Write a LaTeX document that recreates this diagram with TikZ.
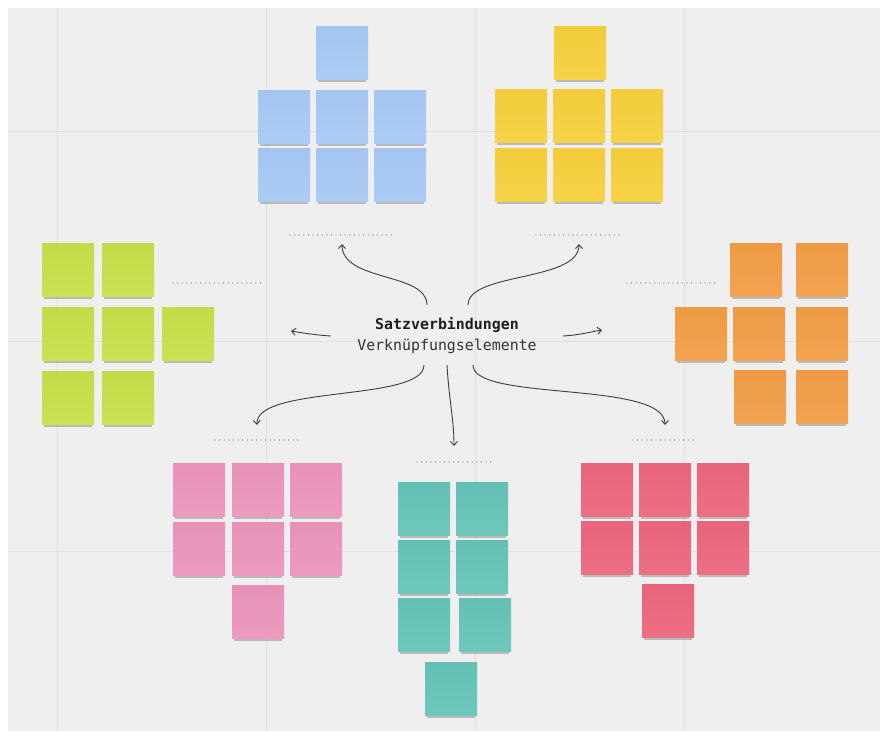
\documentclass[tikz,border=0pt]{standalone}
\usepackage{fontspec}
\setmonofont{DejaVu Sans Mono}
\usetikzlibrary{arrows.meta,shadows}
\definecolor{panel}{RGB}{239,239,239}
\definecolor{gridc}{RGB}{224,224,224}
\definecolor{cblue}{RGB}{166,201,244}
\definecolor{cyellow}{RGB}{247,208,60}
\definecolor{cgreen}{RGB}{199,224,72}
\definecolor{corange}{RGB}{243,157,70}
\definecolor{cpink}{RGB}{236,148,187}
\definecolor{cteal}{RGB}{102,196,184}
\definecolor{cred}{RGB}{236,102,124}
\definecolor{ink}{RGB}{60,60,60}
\begin{document}
\begin{tikzpicture}[x=1pt,y=-1pt,
  note/.style={draw=none,minimum width=52pt,minimum height=53pt,inner sep=0pt,
    general shadow={shadow yshift=-4.5pt,shadow scale=0.94,fill=black,opacity=0.22}},
  nblue/.style={note,top color=cblue!98!black,bottom color=cblue!94!white},
  nyellow/.style={note,top color=cyellow!98!black,bottom color=cyellow!94!white},
  ngreen/.style={note,top color=cgreen!98!black,bottom color=cgreen!94!white},
  norange/.style={note,top color=corange!98!black,bottom color=corange!94!white},
  npink/.style={note,top color=cpink!98!black,bottom color=cpink!94!white},
  nteal/.style={note,top color=cteal!98!black,bottom color=cteal!94!white},
  nred/.style={note,top color=cred!98!black,bottom color=cred!94!white},
  blank/.style={draw=black!50,line width=1.4pt,line cap=round,dash pattern=on 0pt off 4.6pt},
  conn/.style={draw=ink,line width=0.9pt,-{Straight Barb[length=4pt,width=7pt]}},
  gline/.style={draw=gridc,line width=1pt}]
\useasboundingbox (0,0) rectangle (883,731);
\fill[white] (0,0) rectangle (883,731);
\fill[panel] (8,8) rectangle (880,731);
% grid
\foreach \gx in {57,266,475,684} \draw[gline] (\gx,8) -- (\gx,731);
\foreach \gy in {131,341,551} \draw[gline] (8,\gy) -- (880,\gy);

% blue
\node[nblue] (b0) at (342,52.5) {};
\node[nblue] (b1) at (284,116.5) {};
\node[nblue] (b2) at (342,116.5) {};
\node[nblue] (b3) at (400,116.5) {};
\node[nblue] (b4) at (284,174.5) {};
\node[nblue] (b5) at (342,174.5) {};
\node[nblue] (b6) at (400,174.5) {};
% yellow
\node[nyellow] (y0) at (580,52.5) {};
\node[nyellow] (y1) at (521,115.5) {};
\node[nyellow] (y2) at (579,115.5) {};
\node[nyellow] (y3) at (637,115.5) {};
\node[nyellow] (y4) at (521,174.5) {};
\node[nyellow] (y5) at (579,174.5) {};
\node[nyellow] (y6) at (637,174.5) {};
% green
\node[ngreen] (g1) at (68,269.5) {};
\node[ngreen] (g2) at (128,269.5) {};
\node[ngreen] (g3) at (68,333.5) {};
\node[ngreen] (g4) at (128,333.5) {};
\node[ngreen] (g5) at (188,333.5) {};
\node[ngreen] (g6) at (68,397.5) {};
\node[ngreen] (g7) at (128,397.5) {};
% orange
\node[norange] (o1) at (756,269.5) {};
\node[norange] (o2) at (822,269.5) {};
\node[norange] (o3) at (701,333.5) {};
\node[norange] (o4) at (759,333.5) {};
\node[norange] (o5) at (822,333.5) {};
\node[norange] (o6) at (760,396.5) {};
\node[norange] (o7) at (822,396.5) {};
% pink
\node[npink] (p1) at (199,489.5) {};
\node[npink] (p2) at (258,489.5) {};
\node[npink] (p3) at (316,489.5) {};
\node[npink] (p4) at (199,548.5) {};
\node[npink] (p5) at (258,548.5) {};
\node[npink] (p6) at (316,548.5) {};
\node[npink] (p7) at (258,611.5) {};
% teal
\node[nteal] (t1) at (424,508.5) {};
\node[nteal] (t2) at (482,508.5) {};
\node[nteal] (t3) at (424,566.5) {};
\node[nteal] (t4) at (482,566.5) {};
\node[nteal] (t5) at (424,624.5) {};
\node[nteal] (t6) at (485,624.5) {};
\node[nteal] (t7) at (451,688.5) {};
% red
\node[nred] (r1) at (607,489.5) {};
\node[nred] (r2) at (665,489.5) {};
\node[nred] (r3) at (723,489.5) {};
\node[nred] (r4) at (607,547.5) {};
\node[nred] (r5) at (665,547.5) {};
\node[nred] (r6) at (723,547.5) {};
\node[nred] (r7) at (668,610.5) {};

% blank label lines
\draw[blank] (290,235) -- (394,235);
\draw[blank] (536,235) -- (622,235);
\draw[blank] (173,283) -- (261,283);
\draw[blank] (627,283) -- (718,283);
\draw[blank] (215,440) -- (300,440);
\draw[blank] (417,462) -- (492,462);
\draw[blank] (633,440) -- (697,440);

% centre text
\node[font=\ttfamily\bfseries\fontsize{14.9}{18}\selectfont,text=black!88,inner sep=0pt] (title) at (447,325) {Satzverbindungen};
\node[font=\ttfamily\fontsize{14.9}{18}\selectfont,text=black!80,inner sep=0pt] (sub) at (447,346) {Verknüpfungselemente};

% connector endpoints
\coordinate (s1) at (427,305); \coordinate (e1) at (342,244);
\coordinate (s2) at (468,305); \coordinate (e2) at (579,244);
\coordinate (s3) at (331,336); \coordinate (e3) at (291,331);
\coordinate (s4) at (563,336); \coordinate (e4) at (602,330);
\coordinate (s5) at (424,365); \coordinate (e5) at (257,425);
\coordinate (s6) at (447,365); \coordinate (e6) at (454,446);
\coordinate (s7) at (473,365); \coordinate (e7) at (665,425);

\draw[conn] (s1) .. controls (427,272) and (342,282) .. (e1);
\draw[conn] (s2) .. controls (468,272) and (579,282) .. (e2);
\draw[conn] (s3) .. controls (315,335) and (303,333) .. (e3);
\draw[conn] (s4) .. controls (580,335) and (590,332) .. (e4);
\draw[conn] (s5) .. controls (424,402) and (255,385) .. (e5);
\draw[conn] (s6) .. controls (449,400) and (454,420) .. (e6);
\draw[conn] (s7) .. controls (473,402) and (665,380) .. (e7);
\end{tikzpicture}
\end{document}
